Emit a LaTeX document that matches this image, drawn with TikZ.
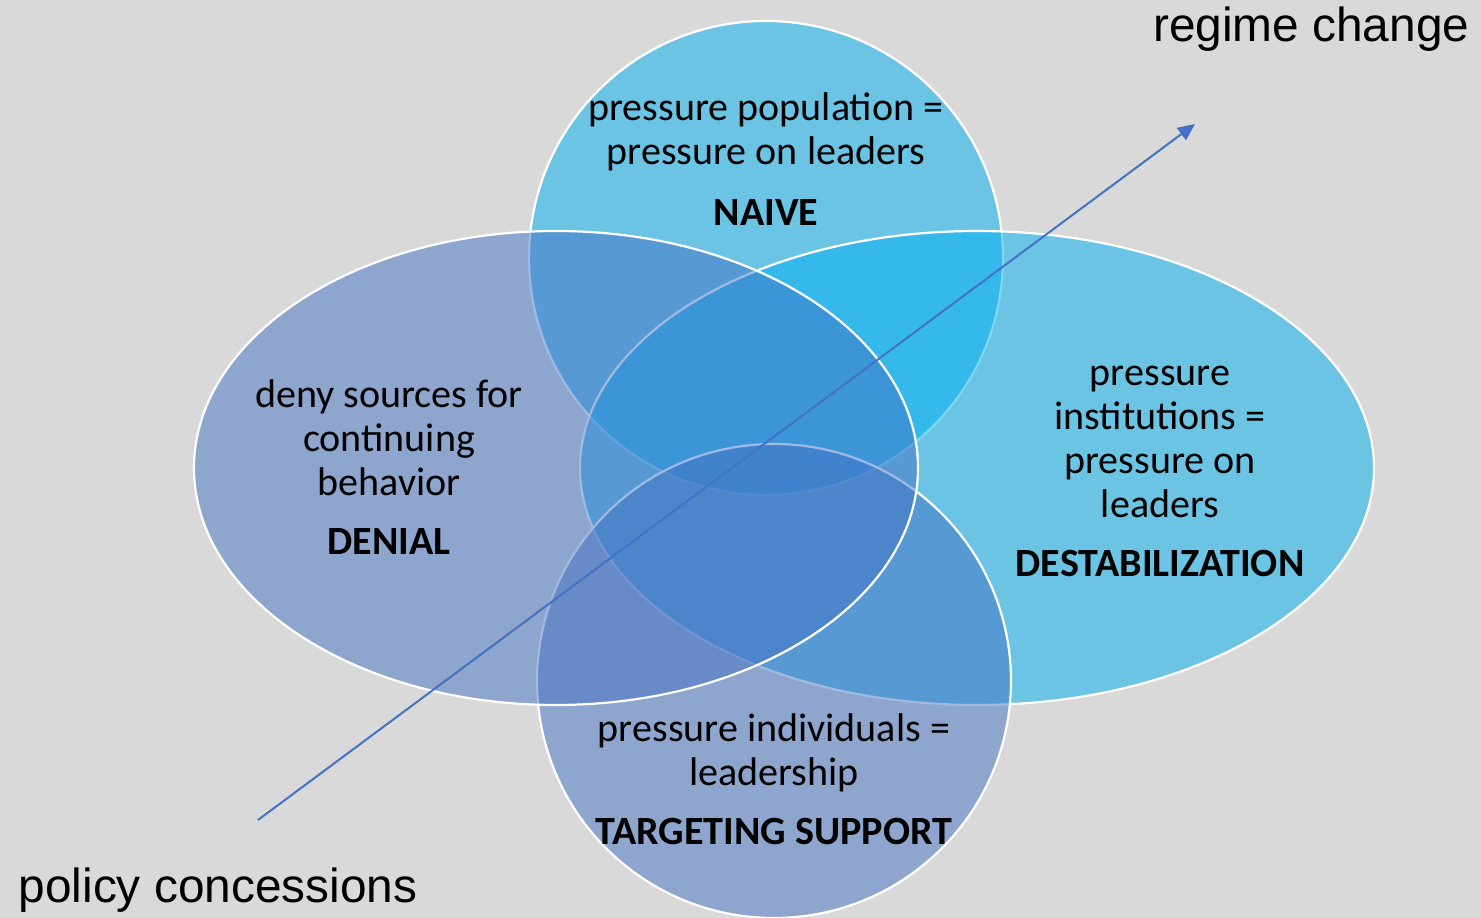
\documentclass[tikz,border=0pt]{standalone}
\usepackage{fontspec}
\setmainfont{Carlito}
\newfontfamily\arialfont{Liberation Sans}
\usetikzlibrary{arrows.meta,positioning}
\definecolor{bgray}{HTML}{D9D9D9}
\definecolor{cyanfill}{HTML}{00B0F0}
\definecolor{bluefill}{HTML}{4472C4}
\tikzset{>={Triangle[length=1.7mm,width=1.5mm]}}

\begin{document}
\begin{tikzpicture}[x=0.1mm,y=-0.1mm,
    venn/.style={draw=white, line width=0.22mm, fill opacity=0.5},
    txt/.style={align=center, font=\fontsize{11.4}{12.5}\selectfont},
    lbl/.style={font=\fontsize{11.4}{12.5}\selectfont\bfseries},
    side/.style={inner xsep=0pt, font=\arialfont\fontsize{13.6}{15}\selectfont}]
  % Canvas
  \fill[bgray] (0,0) rectangle (1481,918);
  \useasboundingbox (0,0) rectangle (1481,918);

  % Centres of the four sets
  \coordinate (N) at (766,258);
  \coordinate (S) at (977,468);
  \coordinate (T) at (774,681);
  \coordinate (D) at (556,468);

  % Sets, back to front
  \path[venn, fill=cyanfill] (N) circle[radius=237];
  \path[venn, fill=cyanfill] (S) ellipse[x radius=397, y radius=237];
  \path[venn, fill=bluefill] (T) circle[radius=237];
  \path[venn, fill=bluefill] (D) ellipse[x radius=362, y radius=237];

  % Escalation arrow
  \coordinate (start) at (258,820);
  \coordinate (end) at (1195,124);
  \draw[->, bluefill, line width=0.2mm] (start) -- (end);

  % Labels
  \node[lbl] (naive) at (766,213) {NAIVE};
  \node[txt] (naivetxt) at (766,132) {pressure population =\\pressure on leaders};
  \node[lbl] (denial) at (389,542) {DENIAL};
  \node[txt] (denialtxt) at (389,438) {deny sources for\\continuing\\behavior};
  \node[lbl] (destab) at (1160,564) {DESTABILIZATION};
  \node[txt] (destabtxt) at (1160,442) {pressure\\institutions =\\pressure on\\leaders};
  \node[lbl] (target) at (774,832) {TARGETING SUPPORT};
  \node[txt] (targettxt) at (774,753) {pressure individuals =\\leadership};

  \node[side, anchor=base east] (regime) at (1470,42) {regime change};
  \node[side, anchor=base west] (policy) at (18,903) {policy concessions};
\end{tikzpicture}
\end{document}
